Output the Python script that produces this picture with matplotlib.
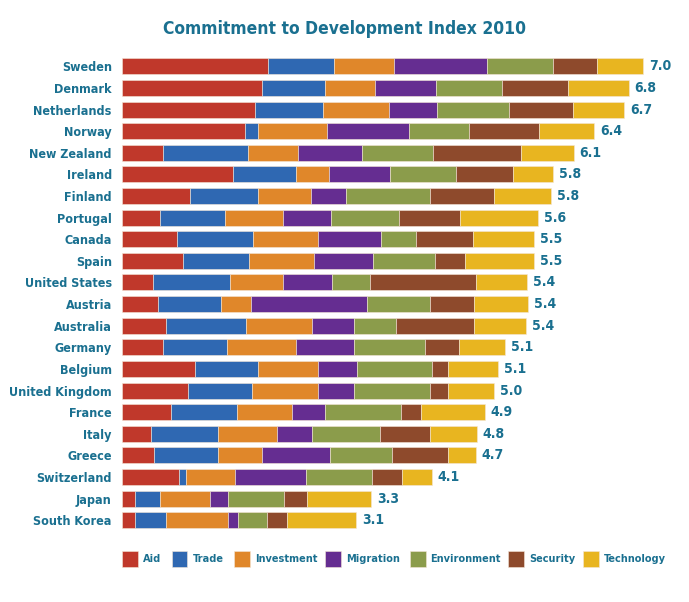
import matplotlib
matplotlib.use("Agg")
import matplotlib.pyplot as plt
from matplotlib.patches import Rectangle
import numpy as np

countries = ["Sweden", "Denmark", "Netherlands", "Norway", "New Zealand", "Ireland",
             "Finland", "Portugal", "Canada", "Spain", "United States", "Austria",
             "Australia", "Germany", "Belgium", "United Kingdom", "France", "Italy",
             "Greece", "Switzerland", "Japan", "South Korea"]
totals = ["7.0", "6.8", "6.7", "6.4", "6.1", "5.8", "5.8", "5.6", "5.5", "5.5", "5.4",
          "5.4", "5.4", "5.1", "5.1", "5.0", "4.9", "4.8", "4.7", "4.1", "3.3", "3.1"]

components = ["Aid", "Trade", "Investment", "Migration", "Environment", "Security", "Technology"]

aid = [1.96, 1.88, 1.79, 1.65, 0.56, 1.49, 0.92, 0.51, 0.75, 0.82, 0.42,
       0.49, 0.59, 0.56, 0.98, 0.89, 0.67, 0.40, 0.43, 0.77, 0.18, 0.18]
trade = [0.89, 0.85, 0.91, 0.18, 1.14, 0.85, 0.91, 0.88, 1.01, 0.89, 1.04,
         0.85, 1.08, 0.86, 0.85, 0.86, 0.88, 0.89, 0.86, 0.09, 0.34, 0.42]
investment = [0.80, 0.67, 0.88, 0.92, 0.67, 0.44, 0.71, 0.78, 0.88, 0.87, 0.71,
              0.40, 0.88, 0.92, 0.80, 0.88, 0.74, 0.79, 0.59, 0.66, 0.67, 0.83]
migration = [1.25, 0.81, 0.65, 1.11, 0.86, 0.82, 0.47, 0.64, 0.84, 0.79, 0.65,
             1.55, 0.57, 0.77, 0.53, 0.49, 0.44, 0.47, 0.92, 0.95, 0.24, 0.13]
environment = [0.89, 0.89, 0.96, 0.80, 0.95, 0.89, 1.13, 0.91, 0.47, 0.83, 0.51,
               0.85, 0.56, 0.96, 1.00, 1.01, 1.01, 0.91, 0.83, 0.89, 0.75, 0.39]
security = [0.58, 0.88, 0.86, 0.93, 1.18, 0.76, 0.86, 0.82, 0.76, 0.41, 1.42,
            0.59, 1.04, 0.45, 0.21, 0.25, 0.28, 0.67, 0.75, 0.40, 0.31, 0.27]
technology = [0.62, 0.82, 0.69, 0.75, 0.70, 0.53, 0.76, 1.04, 0.82, 0.92, 0.69,
              0.72, 0.70, 0.62, 0.68, 0.62, 0.85, 0.63, 0.37, 0.40, 0.86, 0.92]

colors = ["#c0382b", "#2f68b2", "#e0872a", "#652d91", "#8b9c4b", "#8e4a2c", "#e8b520"]
teal = "#1a7090"
txt = dict(family="DejaVu Sans", stretch="condensed", weight="bold", color=teal)

# legend layout (left edge of each swatch, px)
legend_x = [121.5, 171.5, 234, 325, 409.5, 508, 583]

data = np.array([aid, trade, investment, migration, environment, security, technology])
y = np.arange(len(countries))

W, H = 689, 602
fig = plt.figure(figsize=(W / 100, H / 100), dpi=100)
ax = fig.add_axes([121.5 / W, 0.1178, 7.6 * 74.6 / W, 0.790])

left = np.zeros(len(countries))
for vals, name, c in zip(data, components, colors):
    ax.barh(y, vals, left=left, height=0.74, color=c, label=name,
            edgecolor="#f3e6d8", linewidth=0.4)
    left += vals

for yi, end, t in zip(y, left, totals):
    ax.text(end + 0.08, yi, t, va="center", ha="left", fontsize=10, **txt)

ax.set_xlim(0, 7.6)
ax.set_ylim(len(countries) - 0.5, -0.5)
ax.set_yticks(y)
ax.set_yticklabels(countries, fontsize=9, **txt)
ax.tick_params(axis="y", length=0, pad=7)
ax.set_xticks([])
for s in ax.spines.values():
    s.set_visible(False)

fig.text(0.5, 1 - 28.8 / H, "Commitment to Development Index 2010", ha="center",
         va="center", fontsize=12.5, **txt)

# hand-placed legend row
for lx, name, c in zip(legend_x, components, colors):
    fig.patches.append(Rectangle((lx / W, 1 - 567 / H), 16 / W, 16 / H, facecolor=c,
                                 edgecolor="#f3e6d8", linewidth=0.4,
                                 transform=fig.transFigure, figure=fig))
    fig.text((lx + 21) / W, 1 - 559 / H, name, ha="left", va="center", fontsize=7.8, **txt)

fig.savefig("out.png", dpi=100)
